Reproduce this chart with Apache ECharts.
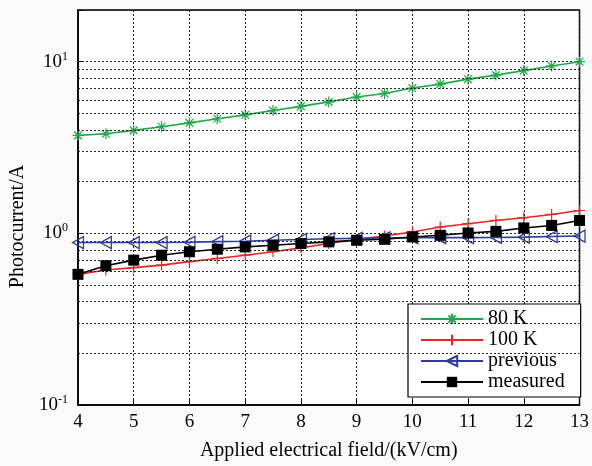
<!DOCTYPE html>
<html>
<head>
<meta charset="utf-8">
<script src="https://cdn.jsdelivr.net/npm/echarts@6/dist/echarts.min.js"></script>
<style>
  html, body { margin: 0; padding: 0; background: #fafafa; }
  #main { width: 592px; height: 466px; }
</style>
</head>
<body>
<div id="main"></div>
<script>
// 横坐标 (kV/cm)
var fieldValues = [4, 4.5, 5, 5.5, 6, 6.5, 7, 7.5, 8, 8.5, 9, 9.5, 10, 10.5, 11, 11.5, 12, 12.5, 13];

var k80Values = [3.72, 3.80, 3.98, 4.18, 4.40, 4.65, 4.90, 5.19, 5.49, 5.83, 6.22, 6.53, 7.02, 7.40, 7.91, 8.35, 8.87, 9.44, 10.0];
var k100Values = [0.577, 0.611, 0.631, 0.653, 0.684, 0.714, 0.746, 0.781, 0.823, 0.872, 0.920, 0.966, 1.019, 1.089, 1.138, 1.189, 1.233, 1.288, 1.358];
var previousValues = [0.884, 0.884, 0.884, 0.884, 0.887, 0.895, 0.900, 0.912, 0.920, 0.930, 0.935, 0.940, 0.944, 0.944, 0.944, 0.946, 0.950, 0.958, 0.964];
var measuredValues = [0.577, 0.648, 0.698, 0.746, 0.781, 0.808, 0.834, 0.852, 0.872, 0.892, 0.911, 0.923, 0.953, 0.974, 1.005, 1.027, 1.075, 1.112, 1.189];

var seriesNames = ['80 K', '100 K', 'previous', 'measured'];
var xTicks = [4, 5, 6, 7, 8, 9, 10, 11, 12, 13];
// 对数轴的次网格线
var minorGridValues = [0.2, 0.3, 0.4, 0.5, 0.6, 0.7, 0.8, 0.9, 2, 3, 4, 5, 6, 7, 8, 9];

function pairs(ys) {
    var list = [];
    for (var i = 0; i < fieldValues.length; i++) {
        list.push([fieldValues[i], ys[i]]);
    }
    return list;
}

var serif = '"Liberation Serif", "DejaVu Serif", serif';
var gridDot = { type: [2, 2], color: '#222', width: 1 };

var myChart = echarts.init(document.getElementById('main'));

var option = {
    backgroundColor: '#fafafa',
    animation: false,
    grid: {
        left: 78, right: 12, top: 10, bottom: 59,
        show: true, backgroundColor: '#ffffff',
        borderColor: '#000', borderWidth: 1.5
    },
    legend: {
        data: seriesNames,
        orient: 'vertical',
        left: 408, top: 304,
        itemWidth: 62, itemHeight: 13, itemGap: 1,
        padding: [5, 16, 5, 12],
        backgroundColor: '#fff',
        borderColor: '#000', borderWidth: 1.2, borderRadius: 0,
        textStyle: { fontFamily: serif, fontSize: 20, color: '#000', lineHeight: 20 }
    },
    xAxis: {
        type: 'value',
        min: 4, max: 13, interval: 1,
        name: 'Applied electrical field/(kV/cm)',
        nameLocation: 'middle', nameGap: 36,
        nameTextStyle: { fontFamily: serif, fontSize: 20, color: '#000' },
        axisLine: { lineStyle: { color: '#000', width: 1.5 } },
        axisTick: { inside: true, length: 5, lineStyle: { color: '#000' } },
        axisLabel: {
            fontFamily: serif, fontSize: 19, color: '#000', margin: 8,
            formatter: function(v) { return xTicks.indexOf(v) >= 0 ? String(v) : ''; }
        },
        splitLine: { show: true, lineStyle: gridDot }
    },
    yAxis: {
        type: 'log',
        logBase: 10,
        min: 0.1, max: 20,
        name: 'Photocurrent/A',
        nameLocation: 'middle', nameGap: 50,
        nameTextStyle: { fontFamily: serif, fontSize: 20, color: '#000', padding: [0, 38, 0, 0] },
        axisLine: { lineStyle: { color: '#000', width: 1.5 } },
        axisTick: { inside: true, length: 5, lineStyle: { color: '#000' } },
        axisLabel: {
            color: '#000', margin: 10,
            formatter: function(v) {
                var e = Math.round(Math.log(v) / Math.LN10);
                if (Math.abs(Math.pow(10, e) - v) > 1e-9 * v) return '';
                return '{b|10}{s|' + e + '}';
            },
            rich: {
                b: { fontFamily: serif, fontSize: 19, color: '#000' },
                s: { fontFamily: serif, fontSize: 12, color: '#000', verticalAlign: 'top', padding: [0, 0, 10, 0] }
            }
        },
        splitLine: { show: true, lineStyle: gridDot }
    },
    series: [
        {
            name: seriesNames[0],
            type: 'line',
            data: pairs(k80Values),
            symbol: 'path://M0,-10L0,10M-10,0L10,0M-7,-7L7,7M-7,7L7,-7',
            symbolSize: 11,
            showSymbol: true,
            lineStyle: { color: '#1faa48', width: 1.6 },
            itemStyle: { color: '#1faa48', borderColor: '#1faa48', borderWidth: 1.2 },
            markLine: {
                silent: true,
                symbol: 'none',
                label: { show: false },
                lineStyle: gridDot,
                data: minorGridValues.map(function(v) { return { yAxis: v }; })
            },
            z: 3
        },
        {
            name: seriesNames[1],
            type: 'line',
            data: pairs(k100Values),
            symbol: 'path://M0,-10L0,10M-10,0L10,0',
            symbolSize: 11,
            lineStyle: { color: '#ee2222', width: 1.6 },
            itemStyle: { color: '#ee2222', borderColor: '#ee2222', borderWidth: 1.2 },
            z: 4
        },
        {
            name: seriesNames[2],
            type: 'line',
            data: pairs(previousValues),
            symbol: 'path://M-10,0L10,-10L10,10Z',
            symbolSize: [11, 12],
            lineStyle: { color: '#2a3ca0', width: 1.6 },
            itemStyle: { color: 'rgba(255,255,255,0)', borderColor: '#2a3ca0', borderWidth: 1.3 },
            z: 5
        },
        {
            name: seriesNames[3],
            type: 'line',
            data: pairs(measuredValues),
            symbol: 'rect',
            symbolSize: 11,
            lineStyle: { color: '#000', width: 1.6 },
            itemStyle: { color: '#000' },
            z: 6
        }
    ]
};

myChart.setOption(option);
</script>
</body>
</html>
